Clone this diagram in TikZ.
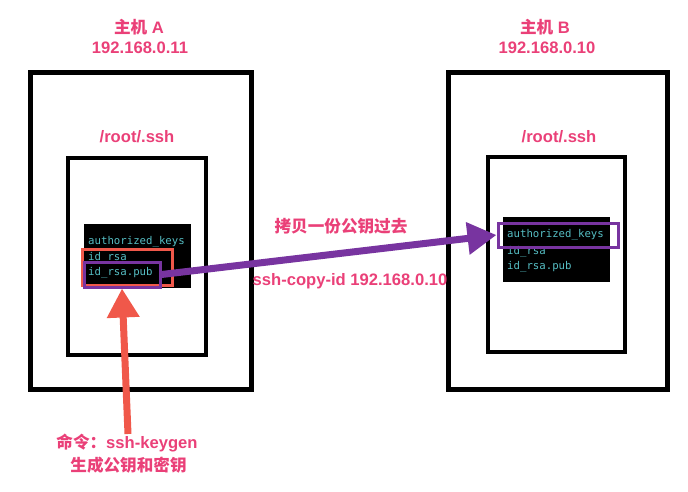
\documentclass[tikz,border=0pt]{standalone}
\usepackage{fontspec}
\setmainfont{Liberation Sans}
\newfontfamily\cjk{Noto Sans CJK SC}
\newfontfamily\termfont{DejaVu Sans Mono}
\usetikzlibrary{arrows.meta}
\definecolor{lblpink}{RGB}{234,64,120}
\definecolor{termteal}{RGB}{86,190,196}
\definecolor{redbox}{RGB}{240,88,74}
\definecolor{purp}{RGB}{120,52,160}
\tikzset{
  hostbox/.style={draw=black,line width=5pt,minimum width=#1},
  dirbox/.style={draw=black,line width=4pt},
  term/.style={fill=black,inner sep=0pt},
  tline/.style={anchor=west,inner sep=0pt,text=termteal,font=\termfont\fontsize{10.7}{12}\selectfont},
  lbl/.style={text=lblpink,inner sep=1pt,font=\bfseries\fontsize{16.6}{18}\selectfont},
  hilite/.style={draw=#1,line width=3pt,inner sep=0pt},
  bigarrow/.style={line width=7pt,draw=#1,-{Triangle[length=29pt,width=31pt]}}
}
\begin{document}
\begin{tikzpicture}[x=1pt,y=-1pt]
\useasboundingbox (0,0) rectangle (688,491);
% host boxes
\node[hostbox=221pt,minimum height=317pt] (hostA) at (140.5,230.5) {};
\node[dirbox,minimum width=138pt,minimum height=197pt] (dirA) at (137,256.5) {};
\node[hostbox=219pt,minimum height=317pt] (hostB) at (557.5,230.5) {};
\node[dirbox,minimum width=137pt,minimum height=195pt] (dirB) at (556.5,254.5) {};
% terminals
\node[term,minimum width=107pt,minimum height=64pt] (termA) at (137.5,256) {};
\node[term,minimum width=107pt,minimum height=65pt] (termB) at (556.5,249.5) {};
\node[tline] (a1) at (88,242) {authorized\_keys};
\node[tline] (a2) at (88,257.5) {id\_rsa};
\node[tline] (a3) at (88,273) {id\_rsa.pub};
\node[tline] (b1) at (507,235) {authorized\_keys};
\node[tline] (b2) at (507,251.5) {id\_rsa};
\node[tline] (b3) at (507,267) {id\_rsa.pub};
% highlight boxes
\node[hilite=redbox,minimum width=90pt,minimum height=36pt] (redA) at (127,267) {};
\node[hilite=purp,minimum width=76pt,minimum height=25pt] (pA) at (122,274.5) {};
\node[hilite=purp,minimum width=120pt,minimum height=24pt] (pB) at (558,235) {};
% labels
\node[lbl] (hA1) at (139,27) {{\cjk 主机} A};
\node[lbl] (hA2) at (140,48) {192.168.0.11};
\node[lbl] (hB1) at (545,27) {{\cjk 主机} B};
\node[lbl] (hB2) at (547,48) {192.168.0.10};
\node[lbl] (rA) at (137,137) {/root/.ssh};
\node[lbl] (rB) at (559,137) {/root/.ssh};
\node[lbl] (cp1) at (341,226) {\cjk 拷贝一份公钥过去};
\node[lbl] (cp2) at (350,281) {ssh-copy-id 192.168.0.10};
\node[lbl] (cmd1) at (127,443) {{\cjk 命令：}ssh-keygen};
\node[lbl] (cmd2) at (128.5,465) {\cjk 生成公钥和密钥};
% arrows
\coordinate (redstart) at (128,434);
\draw[bigarrow=purp] (pA.east) -- (pB.west);
\draw[bigarrow=redbox] (redstart) -- (pA.south);
\end{tikzpicture}
\end{document}
